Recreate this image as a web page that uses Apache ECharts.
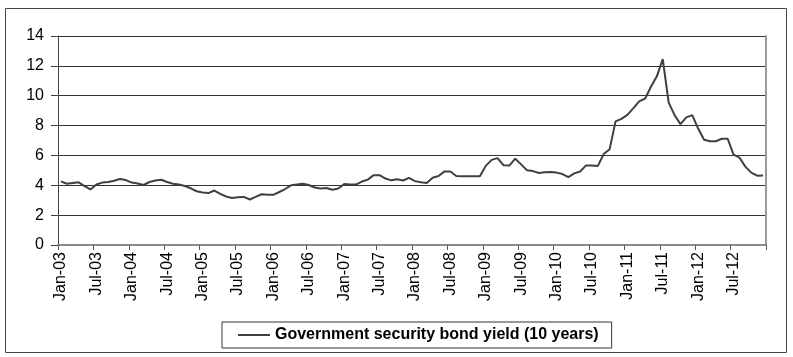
<!DOCTYPE html>
<html>
<head>
<meta charset="utf-8">
<script src="https://cdn.jsdelivr.net/npm/echarts@6/dist/echarts.min.js"></script>
<style>
  html, body { margin: 0; padding: 0; background: #fff; }
  #chart { width: 793px; height: 357px; }
</style>
</head>
<body>
<div id="chart"></div>
<script>
// Monthly 10-year government bond yield, Jan 2003 - Dec 2012 (%)
const monthNames = ['Jan','Feb','Mar','Apr','May','Jun','Jul','Aug','Sep','Oct','Nov','Dec'];
const years = ['03','04','05','06','07','08','09','10','11','12'];
const seriesName = 'Government security bond yield (10 years)';

const yield2003 = [4.26, 4.10, 4.15, 4.20, 3.95, 3.72, 4.05, 4.18, 4.22, 4.30, 4.42, 4.35];
const yield2004 = [4.18, 4.12, 4.02, 4.22, 4.32, 4.37, 4.22, 4.10, 4.05, 3.95, 3.80, 3.60];
const yield2005 = [3.52, 3.48, 3.65, 3.42, 3.25, 3.15, 3.20, 3.22, 3.05, 3.22, 3.40, 3.36];
const yield2006 = [3.36, 3.55, 3.75, 4.00, 4.05, 4.10, 4.02, 3.85, 3.78, 3.82, 3.70, 3.78];
const yield2007 = [4.08, 4.06, 4.05, 4.25, 4.38, 4.68, 4.68, 4.45, 4.33, 4.40, 4.32, 4.50];
const yield2008 = [4.28, 4.20, 4.15, 4.50, 4.62, 4.93, 4.92, 4.62, 4.60, 4.60, 4.60, 4.60];
const yield2009 = [5.30, 5.70, 5.82, 5.35, 5.32, 5.78, 5.40, 5.00, 4.95, 4.82, 4.88, 4.89];
const yield2010 = [4.85, 4.75, 4.55, 4.80, 4.92, 5.33, 5.32, 5.30, 6.10, 6.42, 8.28, 8.45];
const yield2011 = [8.72, 9.15, 9.62, 9.80, 10.60, 11.30, 12.45, 9.55, 8.70, 8.10, 8.55, 8.70];
const yield2012 = [7.80, 7.05, 6.95, 6.95, 7.12, 7.12, 6.05, 5.85, 5.25, 4.85, 4.64, 4.66];

const yAxisTicks = [0, 2, 4, 6, 8, 10, 12, 14];

const categories = [];
years.forEach(y => monthNames.forEach(m => categories.push(m + '-' + y)));
const values = [].concat(yield2003, yield2004, yield2005, yield2006, yield2007,
  yield2008, yield2009, yield2010, yield2011, yield2012);

const font = 'Liberation Sans, Arial, sans-serif';
const chart = echarts.init(document.getElementById('chart'), null, { renderer: 'canvas' });

chart.setOption({
  backgroundColor: '#ffffff',
  animation: false,
  grid: { left: 58, right: 27, top: 36, bottom: 112, containLabel: false },
  xAxis: {
    type: 'category',
    data: categories,
    boundaryGap: true,
    axisLine: { show: true, lineStyle: { color: '#8a8a8a', width: 2 } },
    axisTick: { show: true, interval: 5, length: 5, lineStyle: { color: '#555', width: 1 } },
    axisLabel: {
      interval: 5, rotate: 90, margin: 7,
      color: '#000', fontFamily: font, fontSize: 16
    },
    splitLine: { show: false }
  },
  yAxis: [{
    type: 'value',
    min: yAxisTicks[0],
    max: yAxisTicks[yAxisTicks.length - 1],
    interval: 2,
    axisLine: { show: true, lineStyle: { color: '#444', width: 1 } },
    axisTick: { show: true, length: 7, lineStyle: { color: '#444', width: 1 } },
    axisLabel: { margin: 14, color: '#000', fontFamily: font, fontSize: 16 },
    splitLine: { show: true, lineStyle: { color: '#333', width: 1 } }
  }, {
    type: 'value',
    position: 'right',
    min: yAxisTicks[0],
    max: yAxisTicks[yAxisTicks.length - 1],
    interval: 2,
    axisLine: { show: true, lineStyle: { color: '#999', width: 2 } },
    axisTick: { show: false },
    axisLabel: { show: false },
    splitLine: { show: false }
  }],
  legend: {
    show: true,
    left: 222,
    top: 322,
    padding: [5, 13, 5, 16],
    borderColor: '#333',
    borderWidth: 1,
    itemWidth: 32,
    itemHeight: 2,
    icon: 'rect',
    textStyle: { color: '#000', fontFamily: font, fontSize: 16, fontWeight: 'bold' },
    data: [seriesName]
  },
  graphic: [{
    type: 'rect',
    shape: { x: 5.5, y: 8.5, width: 781, height: 344 },
    style: { fill: null, stroke: '#444', lineWidth: 1 },
    silent: true
  }],
  series: [{
    name: seriesName,
    type: 'line',
    data: values,
    symbol: 'none',
    smooth: false,
    lineStyle: { color: '#404040', width: 2 },
    itemStyle: { color: '#404040' }
  }]
});
</script>
</body>
</html>
